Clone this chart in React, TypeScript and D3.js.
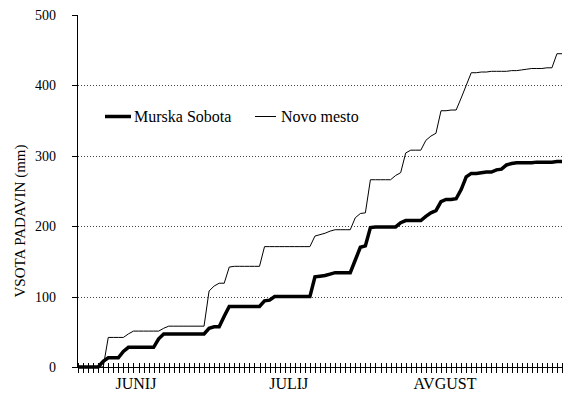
import React from "react";
import * as d3 from "d3";

const murskaSobota = [
  0, 0, 0, 0, 0, 8, 13, 13, 13, 22, 28, 28, 28, 28, 28, 28, 40, 47, 47, 47,
  47, 47, 47, 47, 47, 47, 55, 57, 57, 72, 86, 86, 86, 86, 86, 86, 86, 94, 95, 100,
  100, 100, 100, 100, 100, 100, 100, 128, 129, 130, 132, 134, 134, 134, 134, 152, 170, 172, 198, 199,
  199, 199, 199, 199, 205, 208, 208, 208, 208, 214, 219, 222, 235, 238, 238, 239, 252, 270, 275, 275,
  276, 277, 277, 280, 281, 287, 289, 290, 290, 290, 290, 291, 291, 291, 291, 292, 292,
];

const novoMesto = [
  0, 0, 0, 0, 0, 0, 42, 42, 42, 42, 47, 51, 51, 51, 51, 51, 51, 55, 58, 58,
  58, 58, 58, 58, 58, 58, 108, 115, 119, 119, 142, 143, 143, 143, 143, 143, 143, 171, 171, 171,
  171, 171, 171, 171, 171, 171, 171, 186, 188, 190, 193, 195, 195, 195, 195, 212, 218, 219, 266, 266,
  266, 266, 266, 272, 276, 304, 308, 308, 308, 322, 328, 332, 364, 364, 365, 365, 382, 400, 418, 418,
  419, 419, 420, 420, 420, 420, 421, 421, 422, 423, 424, 424, 424, 425, 425, 445, 445,
];

const monthLabels = ["JUNIJ", "JULIJ", "AVGUST"];
const monthLabelAt = [11.5, 41.8, 72.8];
const yTicks = [0, 100, 200, 300, 400, 500];
const seriesNames = ["Murska Sobota", "Novo mesto"];

const W = 564;
const H = 394;
const left = 78;
const right = 562;
const top = 15;
const bottom = 367;
const FONT =
  "'Times New Roman', Times, 'Liberation Serif', Tinos, 'Nimbus Roman', 'Noto Serif', 'DejaVu Serif', serif";

export default function App() {
  const n = murskaSobota.length;
  const x = d3.scaleLinear().domain([0, n - 1]).range([left, right]);
  const y = d3.scaleLinear().domain([0, 500]).range([bottom, top]);
  const line = d3
    .line<number>()
    .x((_, i) => x(i))
    .y((d) => y(d));

  const days = d3.range(n);
  const ts = { fontFamily: FONT };

  return (
    <svg
      width={W}
      height={H}
      style={{ position: "absolute", left: 0, top: 0, background: "#fff", fontFamily: FONT }}
    >
      <rect x={0} y={0} width={W} height={H} fill="#fff" />
      {yTicks
        .filter((t) => t > 0 && t < 500)
        .map((t) => (
          <line
            key={"g" + t}
            x1={left}
            x2={right}
            y1={Math.round(y(t)) + 0.5}
            y2={Math.round(y(t)) + 0.5}
            stroke="#444"
            strokeWidth={1}
            strokeDasharray="1,2"
          />
        ))}
      <line x1={left - 0.5} x2={left - 0.5} y1={top} y2={bottom} stroke="#000" strokeWidth={1} />
      {yTicks.map((t) => (
        <g key={"y" + t}>
          <line
            x1={left - 6}
            x2={left}
            y1={Math.round(y(t)) + 0.5}
            y2={Math.round(y(t)) + 0.5}
            stroke="#000"
            strokeWidth={1}
          />
          <text
            x={56}
            y={y(t)}
            dy="0.35em"
            textAnchor="end"
            fontSize={14}
            fill="#000"
            style={ts}
          >
            {t}
          </text>
        </g>
      ))}
      <text
        transform={`translate(20,221) rotate(-90)`}
        textAnchor="middle"
        dy="0.35em"
        fontSize={15}
        fill="#000"
        style={ts}
      >
        VSOTA PADAVIN (mm)
      </text>
      <line x1={left} x2={right} y1={bottom + 0.5} y2={bottom + 0.5} stroke="#000" strokeWidth={1} />
      {days.map((d) => (
        <line
          key={"xt" + d}
          x1={Math.round(x(d)) + 0.5}
          x2={Math.round(x(d)) + 0.5}
          y1={bottom - 4}
          y2={bottom + 6}
          stroke="#000"
          strokeWidth={1}
        />
      ))}
      {monthLabels.map((m, i) => (
        <text
          key={m}
          x={x(monthLabelAt[i])}
          y={389}
          textAnchor="middle"
          fontSize={16}
          fill="#000"
          style={ts}
        >
          {m}
        </text>
      ))}
      <path d={line(novoMesto) || ""} fill="none" stroke="#000" strokeWidth={1} />
      <path
        d={line(murskaSobota) || ""}
        fill="none"
        stroke="#000"
        strokeWidth={3.5}
        strokeLinejoin="miter"
      />
      <line x1={105} x2={131} y1={116.5} y2={116.5} stroke="#000" strokeWidth={3.5} />
      <text x={134} y={121.5} fontSize={16} fill="#000" style={ts}>
        {seriesNames[0]}
      </text>
      <line x1={255} x2={276} y1={116.5} y2={116.5} stroke="#000" strokeWidth={1} />
      <text x={281} y={121.5} fontSize={16} fill="#000" style={ts}>
        {seriesNames[1]}
      </text>
    </svg>
  );
}
